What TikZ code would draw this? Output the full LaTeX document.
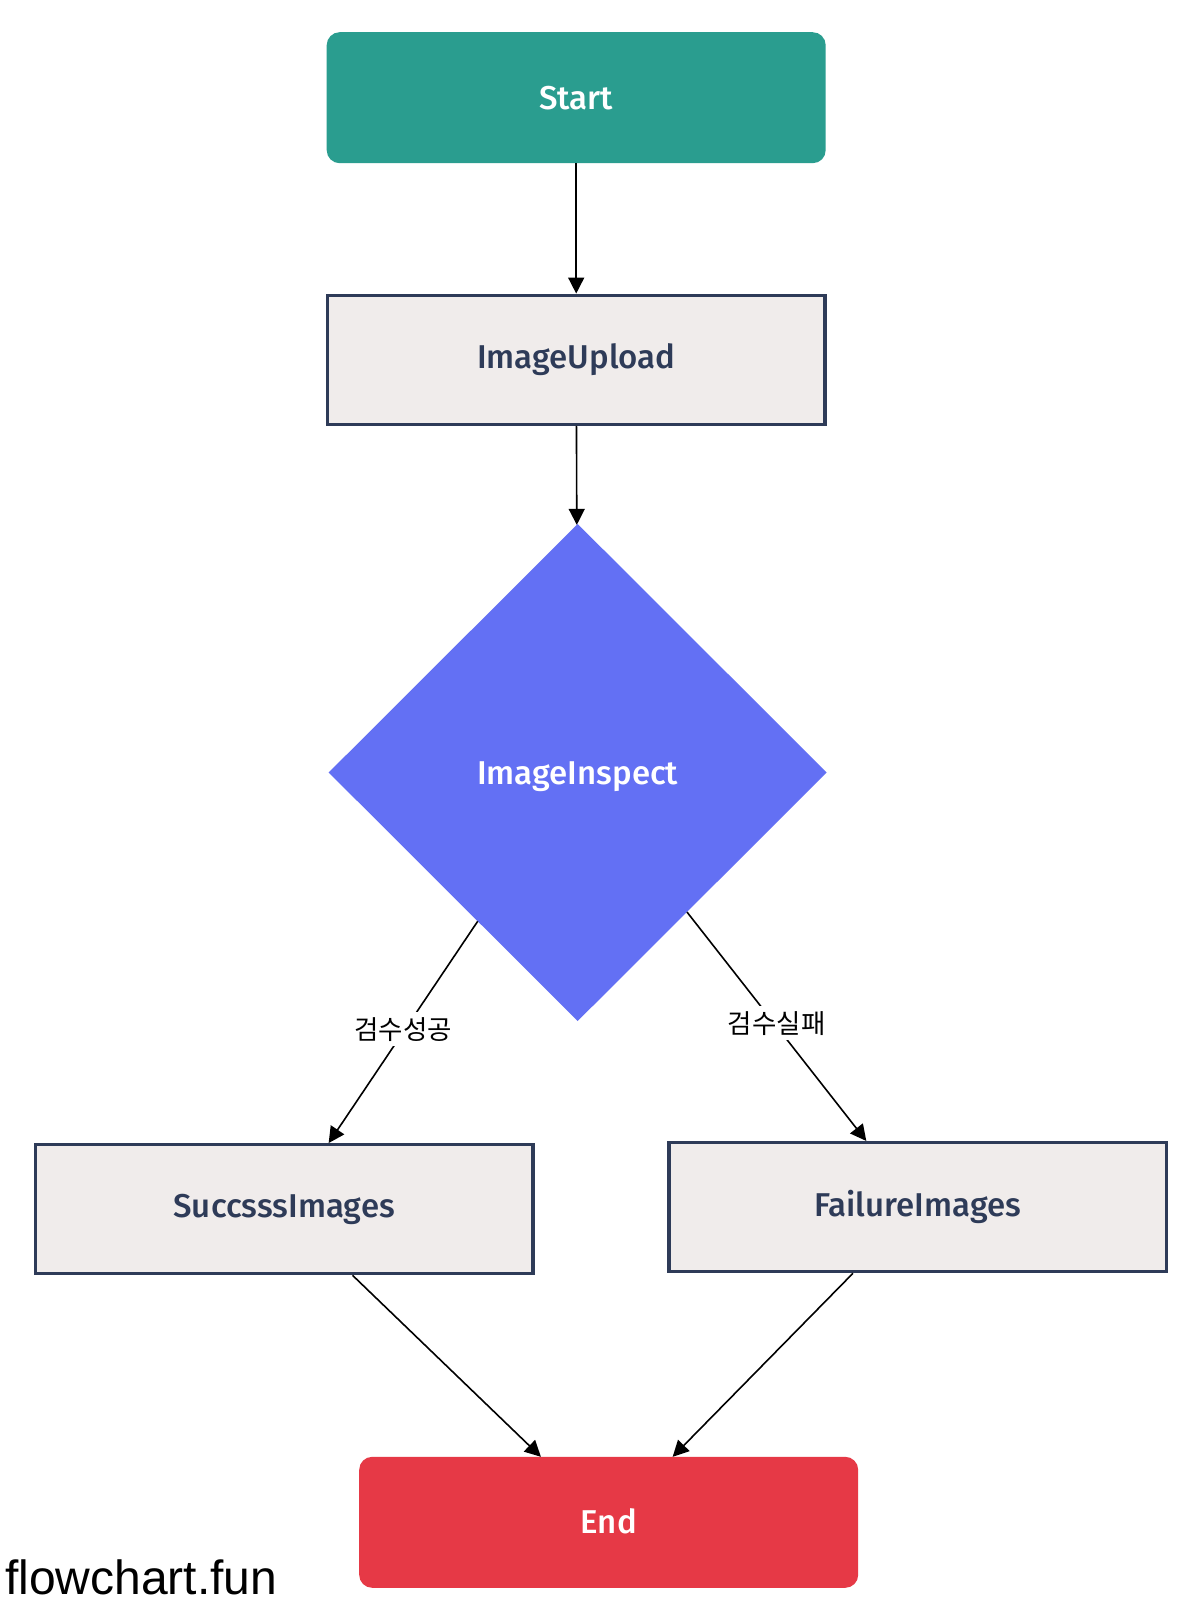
\documentclass[tikz,border=0pt]{standalone}
\usepackage{fontspec}
\usetikzlibrary{shapes.geometric,arrows.meta}
\IfFontExistsTF{Fira Sans Medium}{\newfontfamily\nodefontA{Fira Sans Medium}\newcommand\nfont{\nodefontA}}{\newfontfamily\nodefontA{Fira Sans}\newcommand\nfont{\nodefontA\bfseries}}
\newfontfamily\cjkfont{Noto Sans CJK KR}
\newfontfamily\brandfont{Liberation Sans}
\definecolor{teal}{HTML}{2A9D8F}
\definecolor{endred}{HTML}{E63946}
\definecolor{indigo}{HTML}{6370F4}
\definecolor{boxfill}{HTML}{F0ECEB}
\definecolor{boxborder}{HTML}{2E3B58}
\tikzset{
  base/.style={font=\nfont\fontsize{33}{38}\selectfont, inner sep=0pt, outer sep=0pt, align=center},
  terminal/.style={base, rectangle, rounded corners=13pt, minimum width=499pt, minimum height=131pt, text=white},
  procbox/.style={base, rectangle, draw=boxborder, line width=3.3pt, fill=boxfill, minimum width=497.5pt, minimum height=129pt, text=boxborder, outer sep=1.65pt},
  decision/.style={base, diamond, fill=indigo, minimum width=498pt, minimum height=497pt, text=white, text depth=0pt, text height=24pt},
  conn/.style={line width=1.6pt, -{Triangle[length=16pt,width=16pt]}},
  elabel/.style={font=\cjkfont\fontsize{26.5}{30}\selectfont, fill=white, inner xsep=2pt, inner ysep=5pt, yshift=3pt}
}
\begin{document}
\begin{tikzpicture}[x=1pt,y=-1pt]
  \useasboundingbox[fill=white] (0,0) rectangle (1202,1620);
  \node[terminal, fill=teal] (start) at (576.2,97.7) {Start};
  \node[procbox] (upload) at (576.2,359.7) {ImageUpload};
  \node[decision] (inspect) at (577.7,772.5) {ImageInspect};
  \node[procbox] (succ) at (284.2,1209.2) {SuccsssImages};
  \node[procbox] (fail) at (917.8,1207.1) {FailureImages};
  \node[terminal, fill=endred] (end) at (608.7,1522.3) {\raisebox{2pt}{End}};
  \draw[conn] (start) -- (upload);
  \draw[conn] (upload) -- (inspect);
  \draw[conn] (inspect) -- node[elabel] (lsucc) {검수성공} (succ);
  \draw[conn] (inspect) -- node[elabel] (lfail) {검수실패} (fail);
  \draw[conn] (succ) -- (end);
  \draw[conn] (fail) -- (end);
  \node[font=\brandfont\fontsize{48}{50}\selectfont, anchor=base west, inner sep=0pt] (brand) at (5,1594) {flowchart.fun};
\end{tikzpicture}
\end{document}
